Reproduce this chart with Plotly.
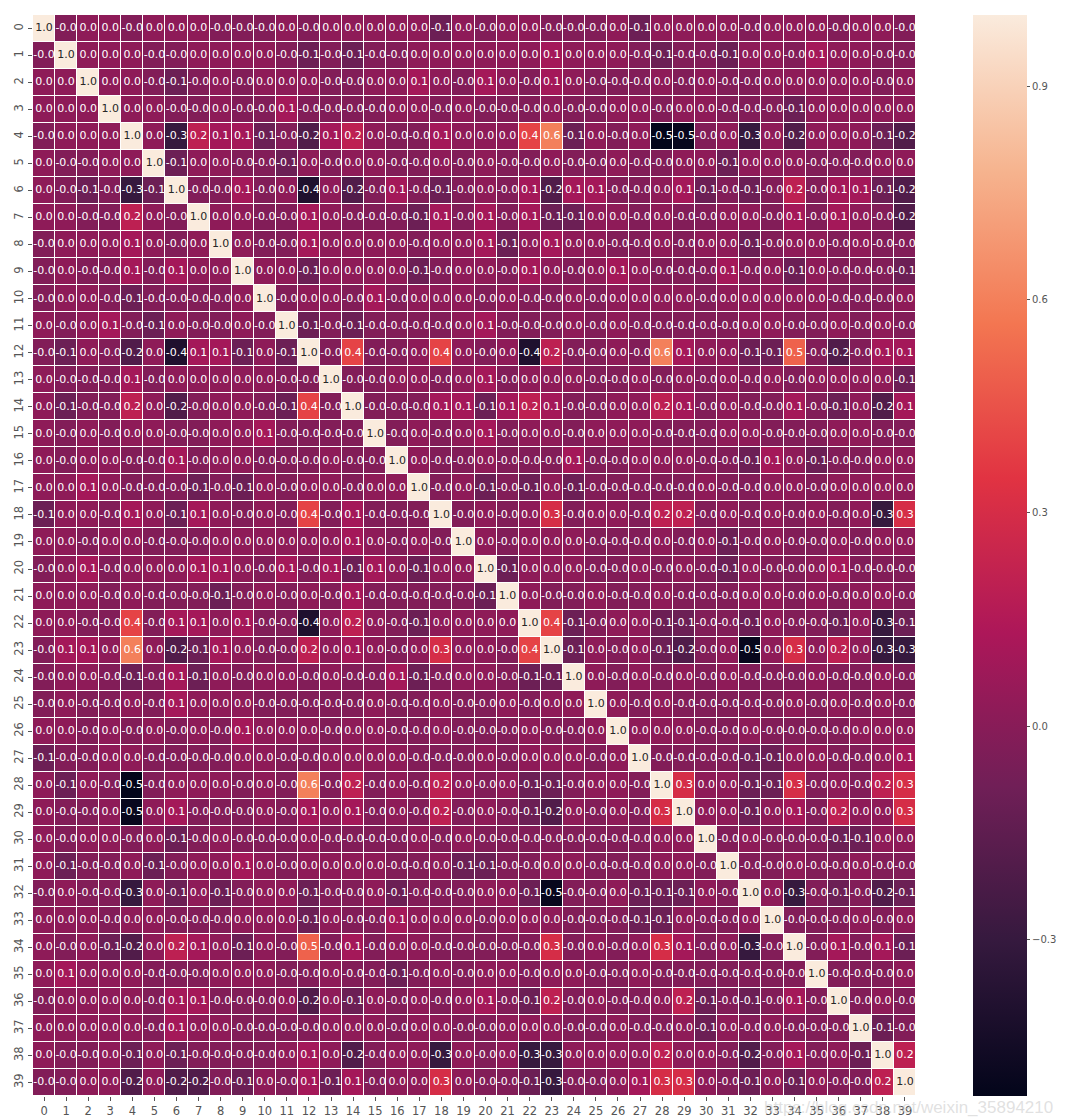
import plotly.graph_objects as go

labels = list(range(40))

rows = [
"1.0 -0.0 0.0 0.0 -0.0 0.0 0.0 0.0 -0.0 -0.0 -0.0 0.0 -0.0 0.0 0.0 0.0 0.0 0.0 -0.1 0.0 -0.0 0.0 0.0 -0.0 -0.0 -0.0 0.0 -0.1 0.0 0.0 0.0 0.0 -0.0 0.0 0.0 0.0 -0.0 0.0 0.0 -0.0",
"-0.0 1.0 0.0 0.0 0.0 -0.0 -0.0 0.0 0.0 0.0 0.0 -0.0 -0.1 -0.0 -0.1 -0.0 -0.0 0.0 0.0 0.0 0.0 0.0 0.0 0.1 0.0 0.0 0.0 -0.0 -0.1 -0.0 -0.0 -0.1 0.0 0.0 -0.0 0.1 0.0 0.0 -0.0 -0.0",
"0.0 0.0 1.0 0.0 0.0 -0.0 -0.1 -0.0 0.0 -0.0 0.0 0.0 0.0 -0.0 -0.0 0.0 0.0 0.1 0.0 -0.0 0.1 0.0 -0.0 0.1 0.0 -0.0 -0.0 -0.0 0.0 -0.0 0.0 -0.0 -0.0 0.0 0.0 0.0 0.0 0.0 -0.0 0.0",
"0.0 0.0 0.0 1.0 0.0 0.0 -0.0 -0.0 0.0 -0.0 -0.0 0.1 -0.0 -0.0 -0.0 -0.0 0.0 0.0 -0.0 0.0 -0.0 -0.0 -0.0 0.0 -0.0 -0.0 0.0 0.0 -0.0 0.0 0.0 -0.0 -0.0 -0.0 -0.1 0.0 0.0 0.0 0.0 0.0",
"-0.0 0.0 0.0 0.0 1.0 0.0 -0.3 0.2 0.1 0.1 -0.1 -0.0 -0.2 0.1 0.2 0.0 -0.0 -0.0 0.1 0.0 0.0 0.0 0.4 0.6 -0.1 0.0 -0.0 0.0 -0.52 -0.5 -0.0 0.0 -0.3 0.0 -0.2 0.0 0.0 0.0 -0.1 -0.2",
"0.0 -0.0 -0.0 0.0 0.0 1.0 -0.1 0.0 0.0 -0.0 -0.0 -0.1 0.0 -0.0 0.0 0.0 -0.0 -0.0 0.0 -0.0 0.0 -0.0 -0.0 0.0 -0.0 -0.0 0.0 -0.0 -0.0 0.0 0.0 -0.1 0.0 0.0 0.0 -0.0 -0.0 -0.0 0.0 0.0",
"0.0 -0.0 -0.1 -0.0 -0.3 -0.1 1.0 -0.0 -0.0 0.1 -0.0 0.0 -0.4 0.0 -0.2 -0.0 0.1 -0.0 -0.1 -0.0 0.0 -0.0 0.1 -0.2 0.1 0.1 -0.0 -0.0 0.0 0.1 -0.1 -0.0 -0.1 -0.0 0.2 -0.0 0.1 0.1 -0.1 -0.2",
"0.0 0.0 -0.0 -0.0 0.2 0.0 -0.0 1.0 0.0 0.0 -0.0 -0.0 0.1 0.0 -0.0 -0.0 -0.0 -0.1 0.1 -0.0 0.1 -0.0 0.1 -0.1 -0.1 0.0 0.0 -0.0 0.0 -0.0 -0.0 0.0 0.0 -0.0 0.1 -0.0 0.1 0.0 -0.0 -0.2",
"-0.0 0.0 0.0 0.0 0.1 0.0 -0.0 0.0 1.0 0.0 -0.0 -0.0 0.1 0.0 0.0 0.0 0.0 -0.0 0.0 0.0 0.1 -0.1 0.0 0.1 0.0 0.0 -0.0 -0.0 0.0 -0.0 0.0 0.0 -0.1 -0.0 0.0 0.0 -0.0 0.0 -0.0 -0.0",
"-0.0 0.0 -0.0 -0.0 0.1 -0.0 0.1 0.0 0.0 1.0 0.0 0.0 -0.1 0.0 0.0 0.0 0.0 -0.1 -0.0 0.0 0.0 -0.0 0.1 0.0 -0.0 0.0 0.1 0.0 -0.0 -0.0 -0.0 0.1 -0.0 0.0 -0.1 0.0 -0.0 -0.0 -0.0 -0.1",
"-0.0 0.0 0.0 -0.0 -0.1 -0.0 -0.0 -0.0 -0.0 0.0 1.0 -0.0 0.0 0.0 -0.0 0.1 -0.0 0.0 0.0 0.0 -0.0 0.0 -0.0 -0.0 0.0 -0.0 0.0 0.0 0.0 0.0 -0.0 0.0 0.0 0.0 0.0 0.0 -0.0 -0.0 -0.0 0.0",
"0.0 -0.0 0.0 0.1 -0.0 -0.1 0.0 -0.0 -0.0 0.0 -0.0 1.0 -0.1 -0.0 -0.1 -0.0 -0.0 -0.0 -0.0 0.0 0.1 -0.0 -0.0 -0.0 0.0 -0.0 0.0 -0.0 -0.0 -0.0 -0.0 -0.0 0.0 0.0 -0.0 -0.0 0.0 -0.0 0.0 -0.0",
"-0.0 -0.1 0.0 -0.0 -0.2 0.0 -0.4 0.1 0.1 -0.1 0.0 -0.1 1.0 -0.0 0.4 -0.0 -0.0 0.0 0.4 0.0 -0.0 0.0 -0.4 0.2 -0.0 -0.0 0.0 -0.0 0.6 0.1 0.0 0.0 -0.1 -0.1 0.5 -0.0 -0.2 -0.0 0.1 0.1",
"0.0 -0.0 -0.0 -0.0 0.1 -0.0 0.0 0.0 0.0 0.0 0.0 -0.0 -0.0 1.0 -0.0 -0.0 0.0 0.0 -0.0 0.0 0.1 -0.0 0.0 0.0 0.0 -0.0 -0.0 0.0 -0.0 0.0 -0.0 0.0 -0.0 0.0 -0.0 0.0 0.0 0.0 0.0 -0.1",
"0.0 -0.1 -0.0 -0.0 0.2 0.0 -0.2 -0.0 0.0 0.0 -0.0 -0.1 0.4 -0.0 1.0 -0.0 -0.0 -0.0 0.1 0.1 -0.1 0.1 0.2 0.1 -0.0 -0.0 0.0 0.0 0.2 0.1 -0.0 0.0 -0.0 -0.0 0.1 -0.0 -0.1 0.0 -0.2 0.1",
"0.0 -0.0 0.0 -0.0 0.0 0.0 -0.0 -0.0 0.0 0.0 0.1 -0.0 -0.0 -0.0 -0.0 1.0 -0.0 0.0 -0.0 0.0 0.1 -0.0 0.0 0.0 -0.0 0.0 0.0 0.0 -0.0 -0.0 -0.0 0.0 0.0 -0.0 -0.0 -0.0 0.0 0.0 -0.0 -0.0",
"0.0 -0.0 0.0 0.0 -0.0 -0.0 0.1 -0.0 0.0 0.0 -0.0 -0.0 -0.0 0.0 -0.0 -0.0 1.0 0.0 -0.0 -0.0 0.0 -0.0 -0.0 -0.0 0.1 -0.0 -0.0 0.0 0.0 0.0 -0.0 -0.0 -0.1 0.1 0.0 -0.1 -0.0 -0.0 0.0 0.0",
"0.0 0.0 0.1 0.0 -0.0 -0.0 -0.0 -0.1 -0.0 -0.1 0.0 -0.0 0.0 0.0 -0.0 0.0 0.0 1.0 -0.0 0.0 -0.1 -0.0 -0.1 0.0 -0.1 -0.0 -0.0 -0.0 -0.0 -0.0 0.0 -0.0 -0.0 0.0 0.0 -0.0 0.0 0.0 0.0 0.0",
"-0.1 0.0 0.0 -0.0 0.1 0.0 -0.1 0.1 0.0 -0.0 0.0 -0.0 0.4 -0.0 0.1 -0.0 -0.0 -0.0 1.0 -0.0 0.0 -0.0 0.0 0.3 -0.0 0.0 0.0 -0.0 0.2 0.2 -0.0 0.0 -0.0 0.0 -0.0 0.0 -0.0 0.0 -0.3 0.3",
"0.0 0.0 -0.0 0.0 0.0 -0.0 -0.0 -0.0 0.0 0.0 0.0 0.0 0.0 0.0 0.1 0.0 -0.0 0.0 -0.0 1.0 0.0 -0.0 0.0 0.0 0.0 -0.0 -0.0 -0.0 0.0 -0.0 0.0 -0.1 -0.0 0.0 -0.0 -0.0 0.0 -0.0 0.0 0.0",
"-0.0 0.0 0.1 -0.0 0.0 0.0 0.0 0.1 0.1 0.0 -0.0 0.1 -0.0 0.1 -0.1 0.1 0.0 -0.1 0.0 0.0 1.0 -0.1 0.0 0.0 0.0 -0.0 -0.0 0.0 -0.0 0.0 -0.0 -0.1 0.0 -0.0 -0.0 0.0 0.1 -0.0 -0.0 -0.0",
"0.0 0.0 0.0 -0.0 0.0 -0.0 -0.0 -0.0 -0.1 -0.0 0.0 -0.0 0.0 -0.0 0.1 -0.0 -0.0 -0.0 -0.0 -0.0 -0.1 1.0 0.0 -0.0 -0.0 0.0 -0.0 -0.0 0.0 -0.0 -0.0 -0.0 0.0 0.0 -0.0 0.0 -0.0 0.0 0.0 -0.0",
"0.0 0.0 -0.0 -0.0 0.4 -0.0 0.1 0.1 0.0 0.1 -0.0 -0.0 -0.4 0.0 0.2 0.0 -0.0 -0.1 0.0 0.0 0.0 0.0 1.0 0.4 -0.1 -0.0 0.0 0.0 -0.1 -0.1 -0.0 -0.0 -0.1 0.0 -0.0 -0.0 -0.1 0.0 -0.3 -0.1",
"-0.0 0.1 0.1 0.0 0.6 0.0 -0.2 -0.1 0.1 0.0 -0.0 -0.0 0.2 0.0 0.1 0.0 -0.0 0.0 0.3 0.0 0.0 -0.0 0.4 1.0 -0.1 0.0 -0.0 0.0 -0.1 -0.2 -0.0 0.0 -0.5 0.0 0.3 0.0 0.2 0.0 -0.3 -0.3",
"-0.0 0.0 0.0 -0.0 -0.1 -0.0 0.1 -0.1 0.0 -0.0 0.0 0.0 -0.0 0.0 -0.0 -0.0 0.1 -0.1 -0.0 0.0 0.0 -0.0 -0.1 -0.1 1.0 0.0 -0.0 0.0 -0.0 0.0 -0.0 0.0 -0.0 -0.0 -0.0 0.0 -0.0 -0.0 0.0 -0.0",
"-0.0 0.0 -0.0 -0.0 0.0 -0.0 0.1 0.0 0.0 0.0 -0.0 -0.0 -0.0 -0.0 -0.0 0.0 -0.0 -0.0 0.0 -0.0 -0.0 0.0 -0.0 0.0 0.0 1.0 0.0 -0.0 0.0 -0.0 -0.0 -0.0 -0.0 -0.0 0.0 -0.0 0.0 -0.0 0.0 -0.0",
"0.0 0.0 -0.0 0.0 -0.0 0.0 -0.0 0.0 -0.0 0.1 0.0 0.0 0.0 -0.0 0.0 0.0 -0.0 -0.0 0.0 -0.0 -0.0 -0.0 0.0 -0.0 -0.0 0.0 1.0 0.0 0.0 0.0 -0.0 -0.0 0.0 -0.0 -0.0 -0.0 -0.0 0.0 0.0 0.0",
"-0.1 -0.0 -0.0 0.0 0.0 -0.0 -0.0 -0.0 -0.0 0.0 0.0 -0.0 -0.0 0.0 0.0 0.0 0.0 -0.0 -0.0 -0.0 0.0 -0.0 0.0 0.0 0.0 -0.0 0.0 1.0 -0.0 -0.0 -0.0 -0.0 -0.1 -0.1 0.0 0.0 -0.0 -0.0 0.0 0.1",
"0.0 -0.1 0.0 -0.0 -0.52 -0.0 0.0 0.0 0.0 -0.0 0.0 -0.0 0.6 -0.0 0.2 -0.0 0.0 -0.0 0.2 0.0 -0.0 0.0 -0.1 -0.1 -0.0 0.0 0.0 -0.0 1.0 0.3 0.0 0.0 -0.1 -0.1 0.3 -0.0 0.0 -0.0 0.2 0.3",
"0.0 -0.0 -0.0 0.0 -0.5 0.0 0.1 -0.0 -0.0 -0.0 0.0 -0.0 0.1 0.0 0.1 -0.0 0.0 -0.0 0.2 -0.0 0.0 -0.0 -0.1 -0.2 0.0 -0.0 0.0 -0.0 0.3 1.0 0.0 0.0 -0.1 0.0 0.1 -0.0 0.2 0.0 0.0 0.3",
"0.0 -0.0 0.0 0.0 -0.0 0.0 -0.1 -0.0 0.0 -0.0 -0.0 -0.0 0.0 -0.0 -0.0 -0.0 -0.0 0.0 -0.0 0.0 -0.0 -0.0 -0.0 -0.0 -0.0 -0.0 -0.0 -0.0 0.0 0.0 1.0 -0.0 0.0 -0.0 -0.0 -0.0 -0.1 -0.1 0.0 0.0",
"0.0 -0.1 -0.0 -0.0 0.0 -0.1 -0.0 0.0 0.0 0.1 0.0 -0.0 0.0 0.0 0.0 0.0 -0.0 -0.0 0.0 -0.1 -0.1 -0.0 -0.0 0.0 0.0 -0.0 -0.0 -0.0 0.0 0.0 -0.0 1.0 -0.0 -0.0 0.0 -0.0 -0.0 0.0 -0.0 -0.0",
"-0.0 0.0 -0.0 -0.0 -0.3 0.0 -0.1 0.0 -0.1 -0.0 0.0 0.0 -0.1 -0.0 -0.0 0.0 -0.1 -0.0 -0.0 -0.0 0.0 0.0 -0.1 -0.5 -0.0 -0.0 0.0 -0.1 -0.1 -0.1 0.0 -0.0 1.0 0.0 -0.3 -0.0 -0.1 -0.0 -0.2 -0.1",
"0.0 0.0 0.0 -0.0 0.0 0.0 -0.0 -0.0 -0.0 0.0 0.0 0.0 -0.1 0.0 -0.0 -0.0 0.1 0.0 0.0 0.0 -0.0 0.0 0.0 0.0 -0.0 -0.0 -0.0 -0.1 -0.1 0.0 -0.0 -0.0 0.0 1.0 -0.0 -0.0 -0.0 0.0 -0.0 0.0",
"0.0 -0.0 0.0 -0.1 -0.2 0.0 0.2 0.1 0.0 -0.1 0.0 -0.0 0.5 -0.0 0.1 -0.0 0.0 0.0 -0.0 -0.0 -0.0 -0.0 -0.0 0.3 -0.0 0.0 -0.0 0.0 0.3 0.1 -0.0 0.0 -0.3 -0.0 1.0 -0.0 0.1 -0.0 0.1 -0.1",
"0.0 0.1 0.0 0.0 0.0 -0.0 -0.0 -0.0 0.0 0.0 0.0 -0.0 -0.0 0.0 -0.0 -0.0 -0.1 -0.0 0.0 -0.0 0.0 0.0 -0.0 0.0 0.0 -0.0 -0.0 0.0 -0.0 -0.0 -0.0 -0.0 -0.0 -0.0 -0.0 1.0 -0.0 -0.0 -0.0 0.0",
"-0.0 0.0 0.0 0.0 0.0 -0.0 0.1 0.1 -0.0 -0.0 -0.0 0.0 -0.2 0.0 -0.1 0.0 -0.0 0.0 -0.0 0.0 0.1 -0.0 -0.1 0.2 -0.0 0.0 -0.0 -0.0 0.0 0.2 -0.1 -0.0 -0.1 -0.0 0.1 -0.0 1.0 -0.0 0.0 -0.0",
"0.0 0.0 0.0 0.0 0.0 -0.0 0.1 0.0 0.0 -0.0 -0.0 -0.0 -0.0 0.0 0.0 0.0 -0.0 0.0 0.0 -0.0 -0.0 0.0 0.0 0.0 -0.0 -0.0 0.0 -0.0 -0.0 0.0 -0.1 0.0 -0.0 0.0 -0.0 -0.0 -0.0 1.0 -0.1 -0.0",
"0.0 -0.0 -0.0 0.0 -0.1 0.0 -0.1 -0.0 -0.0 -0.0 -0.0 0.0 0.1 0.0 -0.2 -0.0 0.0 0.0 -0.3 0.0 -0.0 0.0 -0.3 -0.3 0.0 0.0 0.0 0.0 0.2 0.0 0.0 -0.0 -0.2 -0.0 0.1 -0.0 0.0 -0.1 1.0 0.2",
"-0.0 -0.0 0.0 0.0 -0.2 0.0 -0.2 -0.2 -0.0 -0.1 0.0 -0.0 0.1 -0.1 0.1 -0.0 0.0 0.0 0.3 0.0 -0.0 -0.0 -0.1 -0.3 -0.0 -0.0 0.0 0.1 0.3 0.3 0.0 -0.0 -0.1 0.0 -0.1 0.0 -0.0 -0.0 0.2 1.0",
]

values = [[float(t) for t in r.split()] for r in rows]
for r in values:
    assert len(r) == 40, len(r)

# near-zero cells: keep sign for colouring (displayed as 0.0 / -0.0)
zc = [[(v if v != 0 else (0.02 if str(v)[0] != '-' else -0.02)) for v in r] for r in values]
texts = [[f"{v:.1f}" for v in r] for r in values]

rocket = [
    [0.0, "#03051a"],
    [1/7, "#35193e"],
    [2/7, "#701f57"],
    [3/7, "#ad1759"],
    [4/7, "#e13342"],
    [5/7, "#f37651"],
    [6/7, "#f6b48f"],
    [1.0, "#faebdd"],
]

ZMIN, ZMAX = -0.52, 1.0

fig = go.Figure()
fig.add_trace(go.Heatmap(
    x=labels, y=labels, z=zc,
    zmin=ZMIN, zmax=ZMAX, colorscale=rocket,
    xgap=1, ygap=1, hoverinfo="skip",
    colorbar=dict(
        x=(962.7 - 25) / 890.5, xanchor="left", xref="paper",
        y=0.5, yanchor="middle", len=1.0, lenmode="fraction", ypad=0,
        thickness=54, outlinewidth=0,
        tickvals=[-0.3, 0.0, 0.3, 0.6, 0.9],
        ticktext=["\u22120.3", "0.0", "0.3", "0.6", "0.9"],
        ticks="outside", ticklen=3.5, tickcolor="#555555", tickwidth=1,
        tickfont=dict(family="DejaVu Sans", size=10, color="#555555"),
    ),
))

xs, ys, tt, tc = [], [], [], []
for i, r in enumerate(values):
    for j, v in enumerate(r):
        xs.append(labels[j]); ys.append(labels[i]); tt.append(texts[i][j])
        tc.append("#262626" if v > 0.8 else "#ffffff")

fig.add_trace(go.Scatter(
    x=xs, y=ys, text=tt, mode="text", hoverinfo="skip",
    textfont=dict(family="DejaVu Sans", size=11, color=tc),
    showlegend=False,
))

axis_common = dict(
    tickmode="array", tickvals=labels, ticktext=[str(l) for l in labels],
    ticks="outside", ticklen=4, tickcolor="#555555", tickwidth=1,
    tickfont=dict(family="DejaVu Sans", size=11.5, color="#555555"),
    showgrid=False, zeroline=False, showline=False, automargin=False,
)

fig.update_layout(
    width=1065, height=1118,
    margin=dict(l=25, r=1065 - 915.5, t=6.5, b=1118 - 1088),
    plot_bgcolor="white", paper_bgcolor="white",
    xaxis=dict(range=[-0.5, 39.5], **axis_common),
    yaxis=dict(range=[39.5, -0.5], tickangle=-90, **axis_common),
    showlegend=False,
    annotations=[dict(
        text="https://blog.csdn.net/weixin_35894210",
        xref="paper", yref="paper",
        x=(1056 - 25) / 890.5, xanchor="right",
        y=(1088 - 1100) / 1081.5, yanchor="middle",
        showarrow=False,
        font=dict(family="Liberation Sans", size=17, color="rgba(200,200,200,0.55)"),
    )],
)

fig.write_html("out.html")
